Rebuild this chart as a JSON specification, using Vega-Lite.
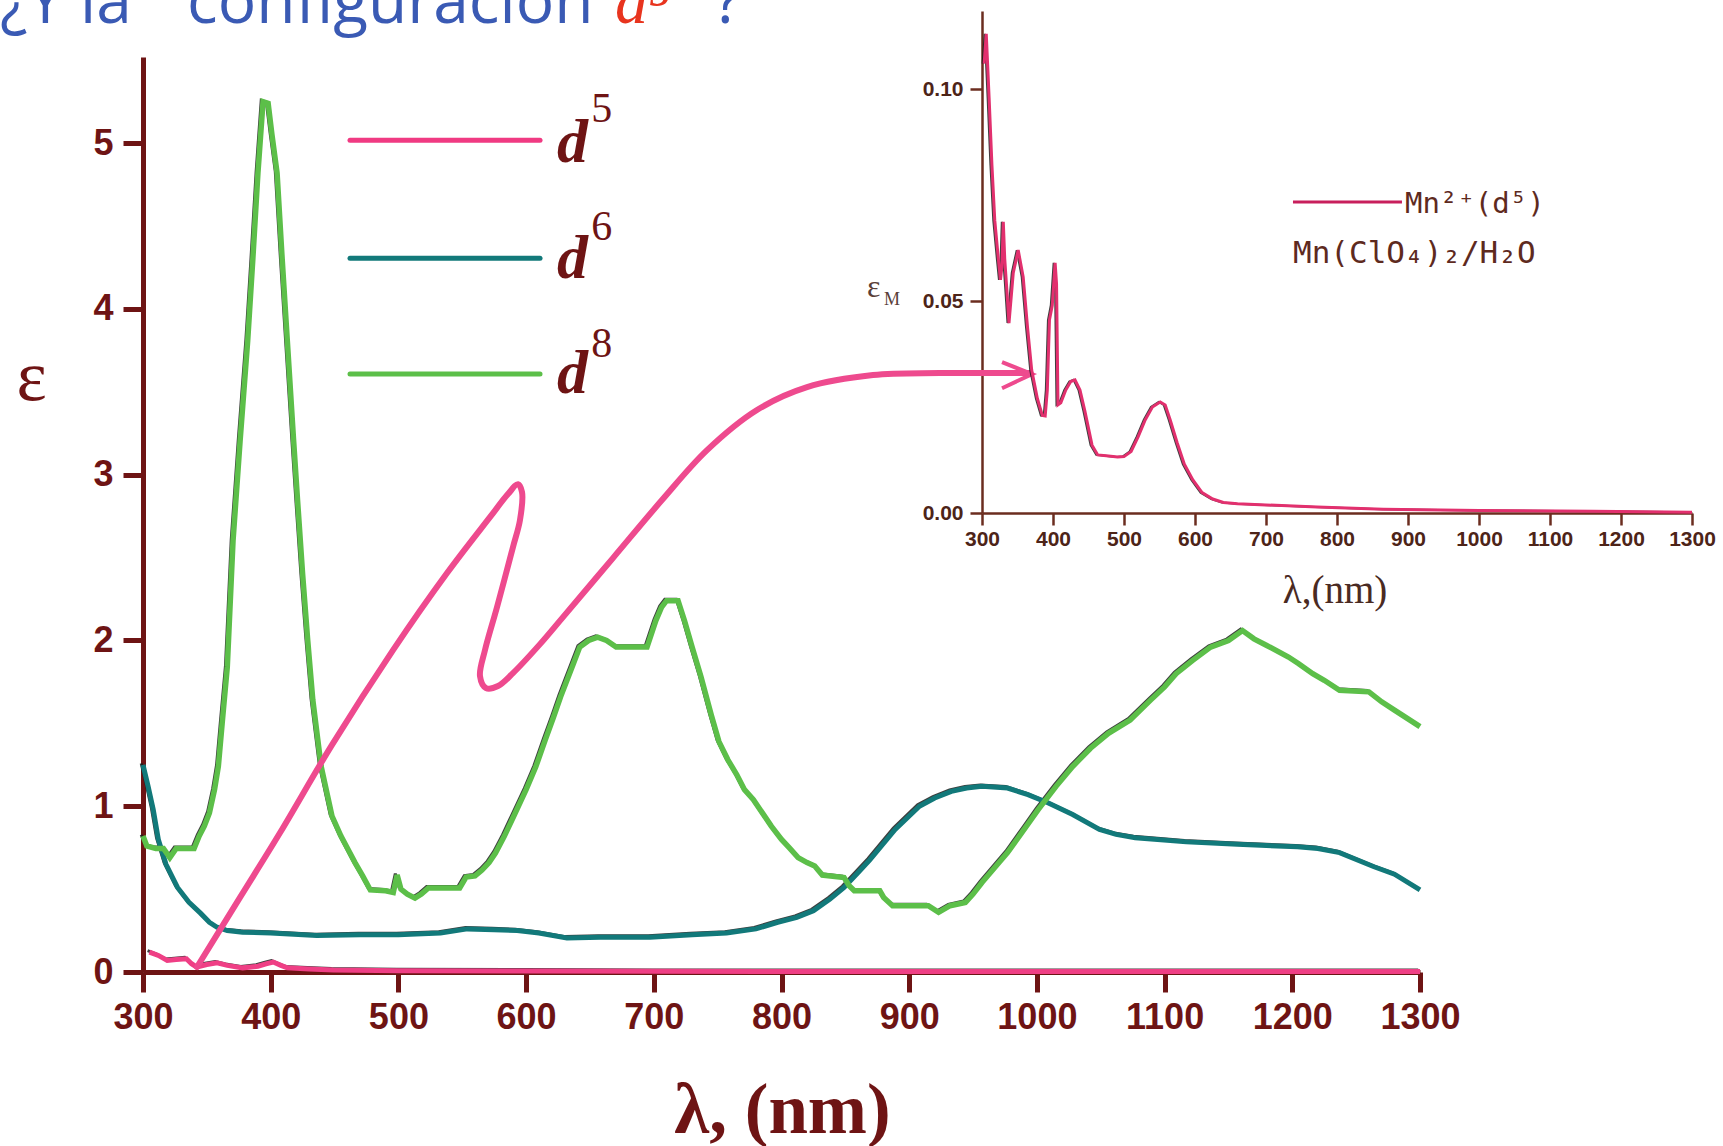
{
  "$schema": "https://vega.github.io/schema/vega-lite/v6.json",
  "autosize": "none",
  "width": 1277,
  "height": 915,
  "padding": {"left": 143, "top": 57, "right": 303, "bottom": 174},
  "background": "white",
  "config": {"view": {"stroke": null}, "axis": {"grid": false}},
  "datasets": {
    "note": [{"n": 1}],
    "spectra": [
      {"s": "d8", "nm": 300, "e": 0.82}, {"s": "d8", "nm": 303, "e": 0.76}, {"s": "d8", "nm": 310, "e": 0.745}, {"s": "d8", "nm": 316, "e": 0.745},
      {"s": "d8", "nm": 321, "e": 0.69}, {"s": "d8", "nm": 326, "e": 0.745}, {"s": "d8", "nm": 340, "e": 0.745}, {"s": "d8", "nm": 344, "e": 0.82},
      {"s": "d8", "nm": 348, "e": 0.88}, {"s": "d8", "nm": 352, "e": 0.96}, {"s": "d8", "nm": 356, "e": 1.1}, {"s": "d8", "nm": 359, "e": 1.24},
      {"s": "d8", "nm": 362, "e": 1.5}, {"s": "d8", "nm": 366, "e": 1.84}, {"s": "d8", "nm": 370.5, "e": 2.6}, {"s": "d8", "nm": 376, "e": 3.2},
      {"s": "d8", "nm": 382, "e": 3.81}, {"s": "d8", "nm": 386, "e": 4.3}, {"s": "d8", "nm": 390, "e": 4.82}, {"s": "d8", "nm": 394, "e": 5.25},
      {"s": "d8", "nm": 398, "e": 5.24}, {"s": "d8", "nm": 401, "e": 5.05}, {"s": "d8", "nm": 405, "e": 4.82}, {"s": "d8", "nm": 409, "e": 4.3},
      {"s": "d8", "nm": 413, "e": 3.81}, {"s": "d8", "nm": 418, "e": 3.2}, {"s": "d8", "nm": 421, "e": 2.85}, {"s": "d8", "nm": 425, "e": 2.4},
      {"s": "d8", "nm": 429, "e": 2.0}, {"s": "d8", "nm": 433, "e": 1.64}, {"s": "d8", "nm": 439.5, "e": 1.24}, {"s": "d8", "nm": 448, "e": 0.94},
      {"s": "d8", "nm": 455, "e": 0.82}, {"s": "d8", "nm": 460.5, "e": 0.74}, {"s": "d8", "nm": 466, "e": 0.66}, {"s": "d8", "nm": 472, "e": 0.58},
      {"s": "d8", "nm": 478, "e": 0.495}, {"s": "d8", "nm": 490, "e": 0.49}, {"s": "d8", "nm": 496, "e": 0.48}, {"s": "d8", "nm": 499, "e": 0.585},
      {"s": "d8", "nm": 502, "e": 0.5}, {"s": "d8", "nm": 507, "e": 0.47}, {"s": "d8", "nm": 513, "e": 0.446}, {"s": "d8", "nm": 518, "e": 0.47},
      {"s": "d8", "nm": 523.5, "e": 0.507}, {"s": "d8", "nm": 548, "e": 0.507}, {"s": "d8", "nm": 553, "e": 0.573}, {"s": "d8", "nm": 560, "e": 0.58},
      {"s": "d8", "nm": 565.5, "e": 0.615}, {"s": "d8", "nm": 571, "e": 0.66}, {"s": "d8", "nm": 576, "e": 0.718}, {"s": "d8", "nm": 583, "e": 0.82},
      {"s": "d8", "nm": 590, "e": 0.935}, {"s": "d8", "nm": 600, "e": 1.1}, {"s": "d8", "nm": 607.5, "e": 1.236}, {"s": "d8", "nm": 615, "e": 1.4},
      {"s": "d8", "nm": 621.5, "e": 1.538}, {"s": "d8", "nm": 627, "e": 1.66}, {"s": "d8", "nm": 632, "e": 1.76}, {"s": "d8", "nm": 637, "e": 1.86},
      {"s": "d8", "nm": 642, "e": 1.96}, {"s": "d8", "nm": 649, "e": 2.0}, {"s": "d8", "nm": 656, "e": 2.02}, {"s": "d8", "nm": 663, "e": 2.0},
      {"s": "d8", "nm": 670.5, "e": 1.96}, {"s": "d8", "nm": 694.7, "e": 1.96}, {"s": "d8", "nm": 701.6, "e": 2.12}, {"s": "d8", "nm": 706, "e": 2.2},
      {"s": "d8", "nm": 710, "e": 2.24}, {"s": "d8", "nm": 719, "e": 2.24}, {"s": "d8", "nm": 724, "e": 2.12}, {"s": "d8", "nm": 730, "e": 1.96},
      {"s": "d8", "nm": 737, "e": 1.78}, {"s": "d8", "nm": 745, "e": 1.55}, {"s": "d8", "nm": 751, "e": 1.39}, {"s": "d8", "nm": 758, "e": 1.28},
      {"s": "d8", "nm": 765, "e": 1.19}, {"s": "d8", "nm": 771, "e": 1.1}, {"s": "d8", "nm": 778, "e": 1.04}, {"s": "d8", "nm": 785, "e": 0.96},
      {"s": "d8", "nm": 792, "e": 0.88}, {"s": "d8", "nm": 800, "e": 0.8}, {"s": "d8", "nm": 806, "e": 0.75}, {"s": "d8", "nm": 813, "e": 0.69},
      {"s": "d8", "nm": 820, "e": 0.66}, {"s": "d8", "nm": 826, "e": 0.64}, {"s": "d8", "nm": 832, "e": 0.585}, {"s": "d8", "nm": 849, "e": 0.57},
      {"s": "d8", "nm": 853, "e": 0.52}, {"s": "d8", "nm": 857, "e": 0.49}, {"s": "d8", "nm": 877, "e": 0.49}, {"s": "d8", "nm": 880, "e": 0.45},
      {"s": "d8", "nm": 887, "e": 0.4}, {"s": "d8", "nm": 915, "e": 0.4}, {"s": "d8", "nm": 923, "e": 0.36}, {"s": "d8", "nm": 932, "e": 0.4},
      {"s": "d8", "nm": 944, "e": 0.42}, {"s": "d8", "nm": 950, "e": 0.47}, {"s": "d8", "nm": 957, "e": 0.54}, {"s": "d8", "nm": 967, "e": 0.63},
      {"s": "d8", "nm": 977, "e": 0.72}, {"s": "d8", "nm": 990, "e": 0.86}, {"s": "d8", "nm": 1001, "e": 0.98}, {"s": "d8", "nm": 1015, "e": 1.12},
      {"s": "d8", "nm": 1028, "e": 1.24}, {"s": "d8", "nm": 1042, "e": 1.35}, {"s": "d8", "nm": 1056, "e": 1.44}, {"s": "d8", "nm": 1073, "e": 1.52},
      {"s": "d8", "nm": 1089, "e": 1.64}, {"s": "d8", "nm": 1100, "e": 1.72}, {"s": "d8", "nm": 1109, "e": 1.8}, {"s": "d8", "nm": 1122, "e": 1.88},
      {"s": "d8", "nm": 1136, "e": 1.96}, {"s": "d8", "nm": 1150, "e": 2.0}, {"s": "d8", "nm": 1161, "e": 2.06}, {"s": "d8", "nm": 1170, "e": 2.01},
      {"s": "d8", "nm": 1180, "e": 1.97}, {"s": "d8", "nm": 1197, "e": 1.9}, {"s": "d8", "nm": 1205, "e": 1.86}, {"s": "d8", "nm": 1216, "e": 1.8},
      {"s": "d8", "nm": 1225, "e": 1.76}, {"s": "d8", "nm": 1237, "e": 1.7}, {"s": "d8", "nm": 1260, "e": 1.69}, {"s": "d8", "nm": 1270, "e": 1.63},
      {"s": "d8", "nm": 1280, "e": 1.58}, {"s": "d8", "nm": 1290, "e": 1.53}, {"s": "d8", "nm": 1300, "e": 1.48},
      {"s": "d6", "nm": 300, "e": 1.25}, {"s": "d6", "nm": 304, "e": 1.12}, {"s": "d6", "nm": 308, "e": 0.98}, {"s": "d6", "nm": 312, "e": 0.8},
      {"s": "d6", "nm": 318, "e": 0.65}, {"s": "d6", "nm": 327, "e": 0.51}, {"s": "d6", "nm": 336, "e": 0.42}, {"s": "d6", "nm": 345, "e": 0.355},
      {"s": "d6", "nm": 352, "e": 0.3}, {"s": "d6", "nm": 358, "e": 0.27}, {"s": "d6", "nm": 366, "e": 0.25}, {"s": "d6", "nm": 378, "e": 0.24},
      {"s": "d6", "nm": 400, "e": 0.235}, {"s": "d6", "nm": 436, "e": 0.22}, {"s": "d6", "nm": 470, "e": 0.225}, {"s": "d6", "nm": 500, "e": 0.225},
      {"s": "d6", "nm": 533, "e": 0.235}, {"s": "d6", "nm": 554, "e": 0.26}, {"s": "d6", "nm": 575, "e": 0.255}, {"s": "d6", "nm": 593, "e": 0.25},
      {"s": "d6", "nm": 610, "e": 0.235}, {"s": "d6", "nm": 632, "e": 0.205}, {"s": "d6", "nm": 658, "e": 0.21}, {"s": "d6", "nm": 697, "e": 0.21},
      {"s": "d6", "nm": 730, "e": 0.225}, {"s": "d6", "nm": 757, "e": 0.235}, {"s": "d6", "nm": 780, "e": 0.26}, {"s": "d6", "nm": 797, "e": 0.3},
      {"s": "d6", "nm": 812, "e": 0.33}, {"s": "d6", "nm": 825, "e": 0.37}, {"s": "d6", "nm": 838, "e": 0.44}, {"s": "d6", "nm": 849, "e": 0.51},
      {"s": "d6", "nm": 860, "e": 0.6}, {"s": "d6", "nm": 869, "e": 0.675}, {"s": "d6", "nm": 889, "e": 0.86}, {"s": "d6", "nm": 908, "e": 1.0},
      {"s": "d6", "nm": 920, "e": 1.05}, {"s": "d6", "nm": 933, "e": 1.09}, {"s": "d6", "nm": 945, "e": 1.11}, {"s": "d6", "nm": 957, "e": 1.12},
      {"s": "d6", "nm": 977, "e": 1.11}, {"s": "d6", "nm": 993, "e": 1.07}, {"s": "d6", "nm": 1009, "e": 1.02}, {"s": "d6", "nm": 1028, "e": 0.95},
      {"s": "d6", "nm": 1049, "e": 0.86}, {"s": "d6", "nm": 1062, "e": 0.83}, {"s": "d6", "nm": 1077, "e": 0.81}, {"s": "d6", "nm": 1117, "e": 0.785},
      {"s": "d6", "nm": 1157, "e": 0.77}, {"s": "d6", "nm": 1204, "e": 0.755}, {"s": "d6", "nm": 1220, "e": 0.745}, {"s": "d6", "nm": 1237, "e": 0.72},
      {"s": "d6", "nm": 1264, "e": 0.635}, {"s": "d6", "nm": 1280, "e": 0.59}, {"s": "d6", "nm": 1300, "e": 0.495},
      {"s": "d5", "nm": 305, "e": 0.12}, {"s": "d5", "nm": 312, "e": 0.1}, {"s": "d5", "nm": 319, "e": 0.07}, {"s": "d5", "nm": 326, "e": 0.075},
      {"s": "d5", "nm": 334, "e": 0.08}, {"s": "d5", "nm": 338, "e": 0.05}, {"s": "d5", "nm": 342, "e": 0.03}, {"s": "d5", "nm": 350, "e": 0.045},
      {"s": "d5", "nm": 358, "e": 0.055}, {"s": "d5", "nm": 366, "e": 0.04}, {"s": "d5", "nm": 378, "e": 0.025}, {"s": "d5", "nm": 390, "e": 0.035},
      {"s": "d5", "nm": 397, "e": 0.05}, {"s": "d5", "nm": 402, "e": 0.06}, {"s": "d5", "nm": 408, "e": 0.04}, {"s": "d5", "nm": 413, "e": 0.025},
      {"s": "d5", "nm": 430, "e": 0.018}, {"s": "d5", "nm": 449, "e": 0.012}, {"s": "d5", "nm": 500, "e": 0.008}, {"s": "d5", "nm": 600, "e": 0.006},
      {"s": "d5", "nm": 700, "e": 0.004}, {"s": "d5", "nm": 800, "e": 0.003}, {"s": "d5", "nm": 1000, "e": 0.003}, {"s": "d5", "nm": 1300, "e": 0.003}
    ],
    "arrow": [
      {"i": 1, "nm": 342.3, "e": 0.03}, {"i": 2, "nm": 376.0, "e": 0.45}, {"i": 3, "nm": 407.3, "e": 0.84}, {"i": 4, "nm": 448.0, "e": 1.37},
      {"i": 5, "nm": 495.8, "e": 1.942}, {"i": 6, "nm": 538.1, "e": 2.407}, {"i": 7, "nm": 571.7, "e": 2.744}, {"i": 8, "nm": 585.8, "e": 2.883},
      {"i": 9, "nm": 593.7, "e": 2.943}, {"i": 10, "nm": 596.8, "e": 2.895}, {"i": 11, "nm": 595.2, "e": 2.726}, {"i": 12, "nm": 589.7, "e": 2.563},
      {"i": 13, "nm": 577.2, "e": 2.201}, {"i": 14, "nm": 567.8, "e": 1.942}, {"i": 15, "nm": 563.9, "e": 1.785}, {"i": 16, "nm": 568.6, "e": 1.713},
      {"i": 17, "nm": 578.0, "e": 1.725}, {"i": 18, "nm": 589.7, "e": 1.803}, {"i": 19, "nm": 610.9, "e": 1.978}, {"i": 20, "nm": 628.9, "e": 2.141},
      {"i": 21, "nm": 668.0, "e": 2.497}, {"i": 22, "nm": 706.4, "e": 2.847}, {"i": 23, "nm": 741.7, "e": 3.148}, {"i": 24, "nm": 780.8, "e": 3.39},
      {"i": 25, "nm": 820.0, "e": 3.528}, {"i": 26, "nm": 871.7, "e": 3.601}, {"i": 27, "nm": 924.1, "e": 3.613}, {"i": 28, "nm": 994.6, "e": 3.613}
    ],
    "head": [
      {"i": 1, "nm": 972.7, "e": 3.679}, {"i": 2, "nm": 996.2, "e": 3.607}, {"i": 3, "nm": 972.7, "e": 3.522}
    ],
    "mn": [
      {"nm": 303, "e": 0.106}, {"nm": 306, "e": 0.113}, {"nm": 310, "e": 0.098}, {"nm": 314, "e": 0.082}, {"nm": 318, "e": 0.069},
      {"nm": 323, "e": 0.06}, {"nm": 326, "e": 0.055}, {"nm": 328, "e": 0.058}, {"nm": 330, "e": 0.0687}, {"nm": 332, "e": 0.06},
      {"nm": 335, "e": 0.0526}, {"nm": 338, "e": 0.0448}, {"nm": 344, "e": 0.0566}, {"nm": 351, "e": 0.062}, {"nm": 358, "e": 0.0557},
      {"nm": 364, "e": 0.044}, {"nm": 370, "e": 0.0337}, {"nm": 378, "e": 0.027}, {"nm": 385, "e": 0.023}, {"nm": 389, "e": 0.0229},
      {"nm": 392, "e": 0.029}, {"nm": 395, "e": 0.0455}, {"nm": 399, "e": 0.049}, {"nm": 403, "e": 0.059}, {"nm": 405, "e": 0.054},
      {"nm": 407, "e": 0.0255}, {"nm": 411, "e": 0.026}, {"nm": 418, "e": 0.029}, {"nm": 425, "e": 0.031}, {"nm": 431, "e": 0.0314},
      {"nm": 438, "e": 0.029}, {"nm": 445, "e": 0.024}, {"nm": 455, "e": 0.016}, {"nm": 463, "e": 0.0137}, {"nm": 475, "e": 0.0135},
      {"nm": 491, "e": 0.0132}, {"nm": 500, "e": 0.0133}, {"nm": 510, "e": 0.0145}, {"nm": 520, "e": 0.018}, {"nm": 530, "e": 0.022},
      {"nm": 540, "e": 0.025}, {"nm": 551, "e": 0.0262}, {"nm": 558, "e": 0.0255}, {"nm": 565, "e": 0.022}, {"nm": 575, "e": 0.0165},
      {"nm": 585, "e": 0.0115}, {"nm": 597, "e": 0.0078}, {"nm": 610, "e": 0.0048}, {"nm": 625, "e": 0.0033}, {"nm": 640, "e": 0.0025},
      {"nm": 660, "e": 0.0022}, {"nm": 700, "e": 0.0019}, {"nm": 772, "e": 0.0014}, {"nm": 865, "e": 0.0009}, {"nm": 1000, "e": 0.0006},
      {"nm": 1160, "e": 0.0004}, {"nm": 1300, "e": 0.0002}
    ]
  },
  "layer": [
    {
      "layer": [
        {
          "data": {"name": "spectra"},
          "mark": {"type": "line", "color": "#1c1c1c", "strokeWidth": 3, "xOffset": -1.8, "yOffset": -1.4, "opacity": 0.85},
          "encoding": {
            "detail": {"field": "s"},
            "x": {
              "field": "nm", "type": "quantitative",
              "scale": {"domain": [300, 1300], "nice": false, "zero": false},
              "axis": {
                "orient": "bottom", "values": [300, 400, 500, 600, 700, 800, 900, 1000, 1100, 1200, 1300], "format": "d",
                "title": "λ, (nm)", "titleFont": "Liberation Serif", "titleFontWeight": "bold", "titleFontSize": 71, "titleColor": "#6e1414",
                "titleX": 639, "titleY": 160, "titleAlign": "center", "titleBaseline": "alphabetic",
                "domainColor": "#6e1414", "domainWidth": 5, "tickColor": "#6e1414", "tickWidth": 5, "tickSize": 20,
                "labelFont": "Liberation Sans", "labelFontWeight": "bold", "labelFontSize": 36, "labelColor": "#6e1414", "labelPadding": 8,
                "labelFlush": false, "labelOverlap": false
              }
            },
            "y": {
              "field": "e", "type": "quantitative",
              "scale": {"domain": [0, 5.52], "nice": false, "zero": false},
              "axis": {
                "orient": "left", "values": [0, 1, 2, 3, 4, 5], "format": "d",
                "title": "ε", "titleFont": "Liberation Serif", "titleFontWeight": "normal", "titleFontSize": 72, "titleColor": "#6e1414",
                "titleAngle": 0, "titleX": -112, "titleY": 320, "titleAlign": "center", "titleBaseline": "middle",
                "domainColor": "#6e1414", "domainWidth": 5, "tickColor": "#6e1414", "tickWidth": 5, "tickSize": 20,
                "labelFont": "Liberation Sans", "labelFontWeight": "bold", "labelFontSize": 36, "labelColor": "#6e1414", "labelPadding": 10,
                "labelFlush": false, "labelOverlap": false
              }
            }
          }
        },
        {
          "data": {"name": "spectra"},
          "transform": [{"filter": "datum.s === 'd6'"}],
          "mark": {"type": "line", "color": "#12797a", "strokeWidth": 5},
          "encoding": {"x": {"field": "nm", "type": "quantitative"}, "y": {"field": "e", "type": "quantitative"}}
        },
        {
          "data": {"name": "spectra"},
          "transform": [{"filter": "datum.s === 'd8'"}],
          "mark": {"type": "line", "color": "#5cbf49", "strokeWidth": 5.5},
          "encoding": {"x": {"field": "nm", "type": "quantitative"}, "y": {"field": "e", "type": "quantitative"}}
        },
        {
          "data": {"name": "spectra"},
          "transform": [{"filter": "datum.s === 'd5'"}],
          "mark": {"type": "line", "color": "#ef3f85", "strokeWidth": 5},
          "encoding": {"x": {"field": "nm", "type": "quantitative"}, "y": {"field": "e", "type": "quantitative"}}
        },
        {
          "data": {"name": "arrow"},
          "mark": {"type": "line", "color": "#ee4a8e", "strokeWidth": 6, "interpolate": "catmull-rom", "strokeCap": "round"},
          "encoding": {"x": {"field": "nm", "type": "quantitative"}, "y": {"field": "e", "type": "quantitative"}, "order": {"field": "i"}}
        },
        {
          "data": {"name": "head"},
          "mark": {"type": "line", "color": "#ee4a8e", "strokeWidth": 4, "strokeJoin": "miter"},
          "encoding": {"x": {"field": "nm", "type": "quantitative"}, "y": {"field": "e", "type": "quantitative"}, "order": {"field": "i"}}
        },
        {"data": {"name": "note"}, "mark": {"type": "rule", "color": "#f03a82", "strokeWidth": 5, "strokeCap": "round"},
         "encoding": {"x": {"datum": 462.1}, "x2": {"datum": 610.9}, "y": {"datum": 5.018}}},
        {"data": {"name": "note"}, "mark": {"type": "rule", "color": "#12797a", "strokeWidth": 5, "strokeCap": "round"},
         "encoding": {"x": {"datum": 462.1}, "x2": {"datum": 610.9}, "y": {"datum": 4.306}}},
        {"data": {"name": "note"}, "mark": {"type": "rule", "color": "#5cbf49", "strokeWidth": 5, "strokeCap": "round"},
         "encoding": {"x": {"datum": 462.1}, "x2": {"datum": 610.9}, "y": {"datum": 3.607}}},
        {"data": {"name": "note"}, "mark": {"type": "text", "text": "d", "font": "Liberation Serif", "fontStyle": "italic", "fontWeight": "bold", "fontSize": 62, "color": "#6e1414", "align": "left", "baseline": "alphabetic"},
         "encoding": {"x": {"datum": 624.2}, "y": {"datum": 4.885}}},
        {"data": {"name": "note"}, "mark": {"type": "text", "text": "d", "font": "Liberation Serif", "fontStyle": "italic", "fontWeight": "bold", "fontSize": 62, "color": "#6e1414", "align": "left", "baseline": "alphabetic"},
         "encoding": {"x": {"datum": 624.2}, "y": {"datum": 4.186}}},
        {"data": {"name": "note"}, "mark": {"type": "text", "text": "d", "font": "Liberation Serif", "fontStyle": "italic", "fontWeight": "bold", "fontSize": 62, "color": "#6e1414", "align": "left", "baseline": "alphabetic"},
         "encoding": {"x": {"datum": 624.2}, "y": {"datum": 3.492}}},
        {"data": {"name": "note"}, "mark": {"type": "text", "text": "5", "font": "Liberation Serif", "fontSize": 42, "color": "#6e1414", "align": "left", "baseline": "alphabetic"},
         "encoding": {"x": {"datum": 651.0}, "y": {"datum": 5.127}}},
        {"data": {"name": "note"}, "mark": {"type": "text", "text": "6", "font": "Liberation Serif", "fontSize": 42, "color": "#6e1414", "align": "left", "baseline": "alphabetic"},
         "encoding": {"x": {"datum": 651.0}, "y": {"datum": 4.415}}},
        {"data": {"name": "note"}, "mark": {"type": "text", "text": "8", "font": "Liberation Serif", "fontSize": 42, "color": "#6e1414", "align": "left", "baseline": "alphabetic"},
         "encoding": {"x": {"datum": 651.0}, "y": {"datum": 3.709}}},
        {"data": {"name": "note"}, "mark": {"type": "text", "text": "¿Y la", "font": "Open Sans", "fontSize": 64, "color": "#3a5ab4", "align": "left", "baseline": "alphabetic"},
         "encoding": {"x": {"datum": 188.0}, "y": {"datum": 5.724}}},
        {"data": {"name": "note"}, "mark": {"type": "text", "text": "configuración", "font": "Open Sans", "fontSize": 64, "color": "#3a5ab4", "align": "left", "baseline": "alphabetic"},
         "encoding": {"x": {"datum": 334.5}, "y": {"datum": 5.724}}},
        {"data": {"name": "note"}, "mark": {"type": "text", "text": "d⁵", "font": "Liberation Serif", "fontStyle": "italic", "fontSize": 66, "color": "#e8341e", "align": "left", "baseline": "alphabetic"},
         "encoding": {"x": {"datum": 669.6}, "y": {"datum": 5.724}}},
        {"data": {"name": "note"}, "mark": {"type": "text", "text": "?", "font": "Open Sans", "fontSize": 64, "color": "#3a5ab4", "align": "left", "baseline": "alphabetic"},
         "encoding": {"x": {"datum": 747.1}, "y": {"datum": 5.724}}}
      ]
    },
    {
      "layer": [
        {
          "data": {"name": "mn"},
          "mark": {"type": "line", "color": "#1c1c1c", "strokeWidth": 2, "xOffset": -1.5, "opacity": 0.85},
          "encoding": {
            "x": {
              "field": "nm", "type": "quantitative",
              "scale": {"domain": [300, 1300], "range": [839, 1549], "nice": false, "zero": false},
              "axis": {
                "orient": "bottom", "offset": -459, "values": [300, 400, 500, 600, 700, 800, 900, 1000, 1100, 1200, 1300], "format": "d",
                "title": null, "domainColor": "#6b2d1f", "domainWidth": 2.5, "tickColor": "#6b2d1f", "tickWidth": 2.5, "tickSize": 12,
                "labelFont": "Liberation Sans", "labelFontWeight": "bold", "labelFontSize": 21, "labelColor": "#4d2418", "labelPadding": 3,
                "labelFlush": false, "labelOverlap": false
              }
            },
            "y": {
              "field": "e", "type": "quantitative",
              "scale": {"domain": [0, 0.1184], "range": [456, -46], "nice": false, "zero": false},
              "axis": {
                "orient": "left", "offset": -839, "values": [0, 0.05, 0.1], "format": ".2f",
                "title": null, "domainColor": "#6b2d1f", "domainWidth": 2.5, "tickColor": "#6b2d1f", "tickWidth": 2.5, "tickSize": 12,
                "labelFont": "Liberation Sans", "labelFontWeight": "bold", "labelFontSize": 21, "labelColor": "#4d2418", "labelPadding": 7,
                "labelFlush": false, "labelOverlap": false
              }
            }
          }
        },
        {
          "data": {"name": "mn"},
          "mark": {"type": "line", "color": "#e2306e", "strokeWidth": 3},
          "encoding": {"x": {"field": "nm", "type": "quantitative"}, "y": {"field": "e", "type": "quantitative"}}
        },
        {"data": {"name": "note"}, "mark": {"type": "rule", "color": "#c81f5c", "strokeWidth": 3},
         "encoding": {"x": {"datum": 738.0}, "x2": {"datum": 891.5}, "y": {"datum": 0.07335}}},
        {"data": {"name": "note"}, "mark": {"type": "text", "text": "Mn²⁺(d⁵)", "font": "DejaVu Sans Mono", "fontSize": 29, "color": "#5e2a1e", "align": "left", "baseline": "alphabetic"},
         "encoding": {"x": {"datum": 895.8}, "y": {"datum": 0.07075}}},
        {"data": {"name": "note"}, "mark": {"type": "text", "text": "Mn(ClO₄)₂/H₂O", "font": "DejaVu Sans Mono", "fontSize": 31, "color": "#5e2a1e", "align": "left", "baseline": "alphabetic"},
         "encoding": {"x": {"datum": 738.0}, "y": {"datum": 0.05896}}},
        {"data": {"name": "note"}, "mark": {"type": "text", "text": "ε", "font": "Liberation Serif", "fontSize": 32, "color": "#5a4038", "align": "left", "baseline": "alphabetic"},
         "encoding": {"x": {"datum": 138.0}, "y": {"datum": 0.05094}}},
        {"data": {"name": "note"}, "mark": {"type": "text", "text": "M", "font": "Liberation Serif", "fontSize": 18, "color": "#5a4038", "align": "left", "baseline": "alphabetic"},
         "encoding": {"x": {"datum": 162.0}, "y": {"datum": 0.04906}}},
        {"data": {"name": "note"}, "mark": {"type": "text", "text": "λ,(nm)", "font": "Liberation Serif", "fontSize": 39, "color": "#4a2a22", "align": "center", "baseline": "alphabetic"},
         "encoding": {"x": {"datum": 797.2}, "y": {"datum": -0.02123}}}
      ]
    }
  ],
  "resolve": {
    "scale": {"x": "independent", "y": "independent"},
    "axis": {"x": "independent", "y": "independent"}
  }
}
